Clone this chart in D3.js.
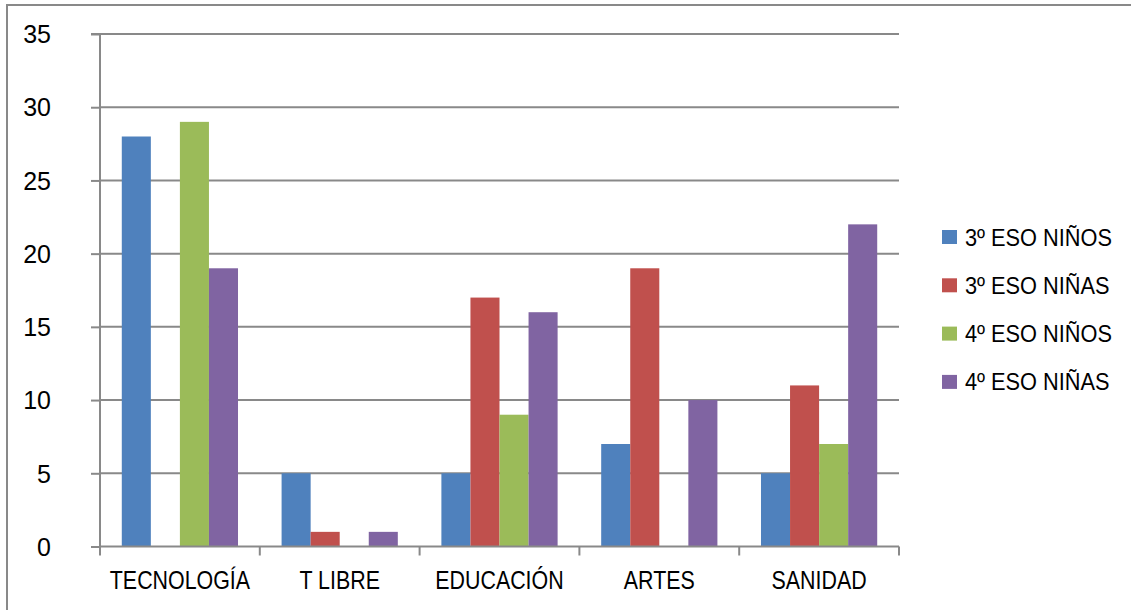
<!DOCTYPE html>
<html>
<head>
<meta charset="utf-8">
<script src="https://cdn.jsdelivr.net/npm/d3@7"></script>
<style>
  html, body { margin: 0; padding: 0; background: #fff; }
  svg { display: block; }
  .ylab { font-family: "Liberation Sans", Arial, sans-serif; font-size: 25px; fill: #000; }
  .xlab { font-family: "Liberation Sans", Arial, sans-serif; font-size: 25px; fill: #000; }
  .leg { font-family: "Liberation Sans", Arial, sans-serif; font-size: 24px; fill: #000; }
</style>
</head>
<body>
<script>
// Categories, series and values
const categories = ["TECNOLOGÍA", "T LIBRE", "EDUCACIÓN", "ARTES", "SANIDAD"];
const seriesNames = ["3º ESO NIÑOS", "3º ESO NIÑAS", "4º ESO NIÑOS", "4º ESO NIÑAS"];
const eso3Ninos = [28, 5, 5, 7, 5];
const eso3Ninas = [0, 1, 17, 19, 11];
const eso4Ninos = [29, 0, 9, 0, 7];
const eso4Ninas = [19, 1, 16, 10, 22];
const yTicks = [0, 5, 10, 15, 20, 25, 30, 35];
const colors = ["#4F81BD", "#C0504D", "#9BBB59", "#8064A2"];

const seriesValues = [eso3Ninos, eso3Ninas, eso4Ninos, eso4Ninas];

const W = 1131, H = 610;
const plot = { left: 100, right: 899, top: 34, bottom: 546.5 };
const gridColor = "#898989";

const svg = d3.select("body").append("svg").attr("width", W).attr("height", H);

// condensed look: squeeze each label horizontally
function condense(sel, f) {
  sel.each(function () {
    const w = this.getComputedTextLength();
    d3.select(this).attr("textLength", w * f).attr("lengthAdjust", "spacingAndGlyphs");
  });
}

// outer chart frame
svg.append("rect")
  .attr("x", 7).attr("y", 5)
  .attr("width", W + 10).attr("height", H + 10)
  .attr("fill", "none").attr("stroke", gridColor).attr("stroke-width", 2);

const x = d3.scaleBand().domain(categories).range([plot.left, plot.right]).padding(0);
const xs = d3.scaleBand().domain(seriesNames).range([0, x.bandwidth()])
  .paddingInner(0).paddingOuter(0.75);
const y = d3.scaleLinear().domain([0, 35]).range([plot.bottom, plot.top]);

// horizontal gridlines
svg.append("g").selectAll("line").data(yTicks.filter(d => d > 0)).join("line")
  .attr("x1", plot.left).attr("x2", plot.right)
  .attr("y1", d => y(d)).attr("y2", d => y(d))
  .attr("stroke", gridColor).attr("stroke-width", 2);

// bars
const groups = svg.append("g").selectAll("g").data(seriesNames).join("g")
  .attr("fill", (d, i) => colors[i]);
groups.selectAll("rect")
  .data((s, i) => categories.map((c, j) => ({ c, s, v: seriesValues[i][j] })))
  .join("rect")
  .attr("x", d => x(d.c) + xs(d.s))
  .attr("width", xs.bandwidth())
  .attr("y", d => y(d.v))
  .attr("height", d => y(0) - y(d.v));

// y axis
const yAxis = svg.append("g").attr("transform", `translate(${plot.left},0)`)
  .call(d3.axisLeft(y).tickValues(yTicks).tickSize(9).tickPadding(40).tickFormat(d3.format("d")));
yAxis.select(".domain").attr("stroke", gridColor).attr("stroke-width", 2)
  .attr("d", `M-9,${plot.top}H0V${plot.bottom}`);
yAxis.selectAll(".tick line").attr("stroke", gridColor).attr("stroke-width", 2);
yAxis.selectAll(".tick text").attr("class", "ylab").attr("font-family", null).attr("font-size", null)
  .attr("dy", "0.35em");

// x axis with ticks at category boundaries
const xAxis = svg.append("g").attr("transform", `translate(0,${plot.bottom})`);
xAxis.append("line").attr("x1", plot.left).attr("x2", plot.right)
  .attr("stroke", gridColor).attr("stroke-width", 2);
const bounds = categories.map(c => x(c)).concat([x(categories[categories.length - 1]) + x.bandwidth()]);
xAxis.selectAll("line.tk").data(bounds).join("line").attr("class", "tk")
  .attr("x1", d => d).attr("x2", d => d).attr("y1", 0).attr("y2", 9)
  .attr("stroke", gridColor).attr("stroke-width", 2);
const xLabels = xAxis.selectAll("text").data(categories).join("text")
  .attr("class", "xlab")
  .attr("x", d => x(d) + x.bandwidth() / 2)
  .attr("y", 42)
  .attr("text-anchor", "middle")
  .text(d => d);
condense(xLabels, 0.855);

// legend
const legend = svg.append("g").attr("transform", "translate(942,230)");
const item = legend.selectAll("g").data(seriesNames).join("g")
  .attr("transform", (d, i) => `translate(0,${i * 48.3})`);
item.append("rect").attr("width", 15).attr("height", 14).attr("fill", (d, i) => colors[i]);
const legText = item.append("text").attr("class", "leg").attr("x", 23).attr("y", 15.5).text(d => d);
condense(legText, 0.906);
</script>
</body>
</html>
